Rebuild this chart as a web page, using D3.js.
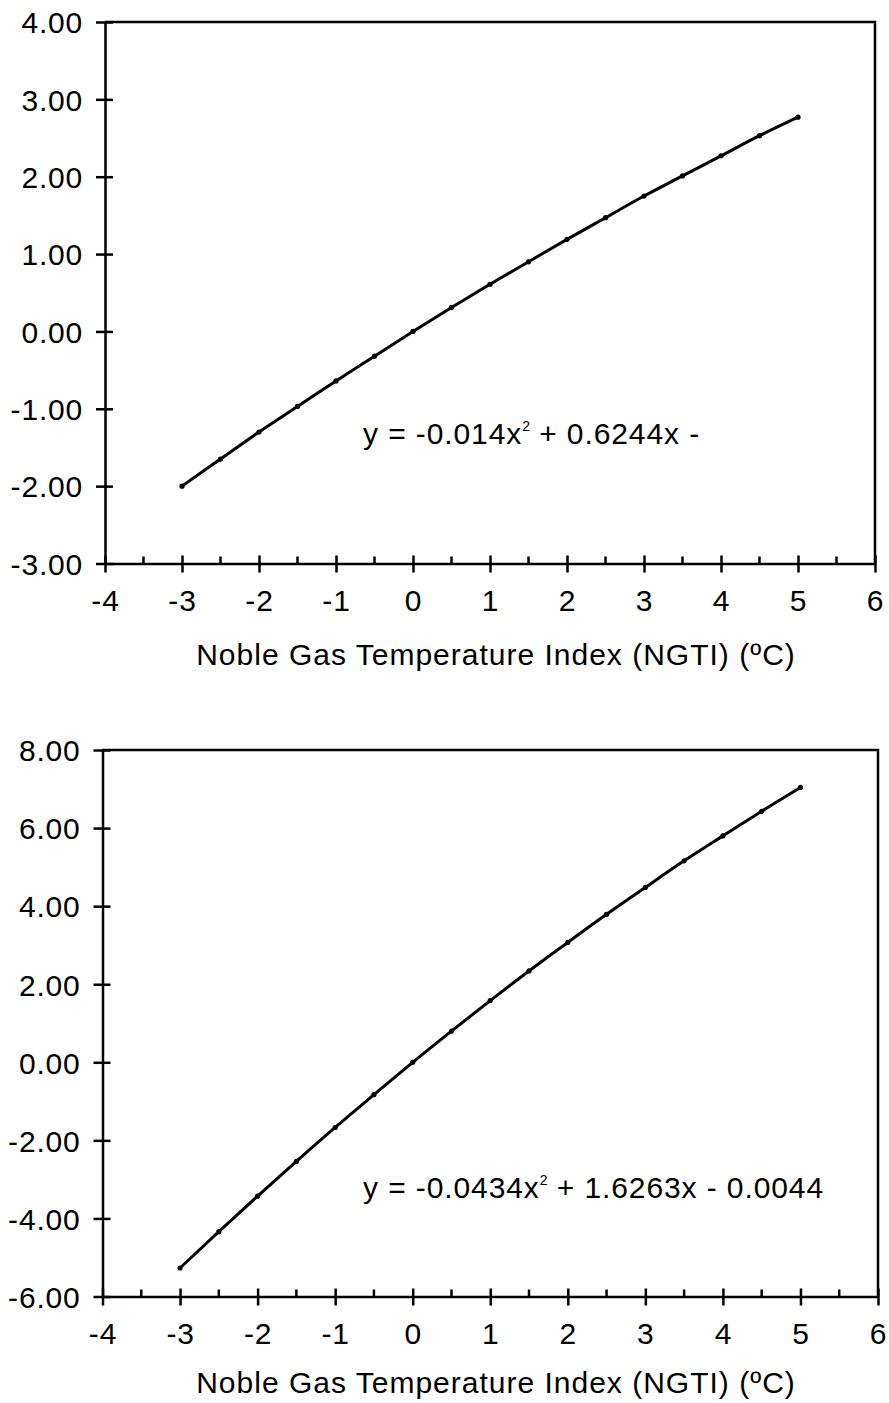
<!DOCTYPE html>
<html>
<head>
<meta charset="utf-8">
<script src="https://cdn.jsdelivr.net/npm/d3@7"></script>
<style>
 body { margin: 0; background: #fff; }
 svg { display: block; }
 text { font-family: "Liberation Sans", Arial, sans-serif; fill: #000; }
</style>
</head>
<body>
<script>
// x values (NGTI, degC) shared by both panels
var ngti = [-3, -2.5, -2, -1.5, -1, -0.5, 0, 0.5, 1, 1.5, 2, 2.5, 3, 3.5, 4, 4.5, 5];
// upper panel values
var topValues = [-2.00, -1.65, -1.30, -0.97, -0.64, -0.32, 0.00, 0.31, 0.61, 0.90, 1.19, 1.47, 1.75, 2.01, 2.27, 2.53, 2.77];
// lower panel values
var bottomValues = [-5.27, -4.34, -3.43, -2.54, -1.67, -0.83, 0.00, 0.80, 1.58, 2.34, 3.07, 3.79, 4.48, 5.16, 5.80, 6.43, 7.04];

var xTicks = [-4, -3, -2, -1, 0, 1, 2, 3, 4, 5, 6];
var xMinorTicks = [-3.5, -2.5, -1.5, -0.5, 0.5, 1.5, 2.5, 3.5, 4.5, 5.5];
var topYTicks = [-3, -2, -1, 0, 1, 2, 3, 4];
var bottomYTicks = [-6, -4, -2, 0, 2, 4, 6, 8];

var xTitle = "Noble Gas Temperature Index (NGTI) (ºC)";
var topEq = ["y = -0.014x", "2", " + 0.6244x -"];
var bottomEq = ["y = -0.0434x", "2", " + 1.6263x - 0.0044"];

var svg = d3.select("body").append("svg")
 .attr("width", 889)
 .attr("height", 1403);

// plain hyphen for negatives, like the original
function fmtY(d) { return d.toFixed(2); }
function fmtX(d) { return String(d); }

function drawPanel(box, yDomain, yTicks, values, eq, eqPos, titleOffset) {
	var x = d3.scaleLinear().domain([-4, 6]).range([box.left, box.right]);
	var y = d3.scaleLinear().domain(yDomain).range([box.bottom, box.top]);
	var g = svg.append("g");

	// frame: top and right edges
	g.append("path")
	 .attr("d", "M" + box.left + "," + box.top + "H" + box.right + "V" + box.bottom)
	 .attr("fill", "none")
	 .attr("stroke", "#000")
	 .attr("stroke-width", 2.5);

	// y axis
	var ya = g.append("g")
	 .attr("transform", "translate(" + box.left + ",0)")
	 .call(d3.axisLeft(y).tickValues(yTicks).tickFormat(fmtY).tickSizeOuter(0));
	ya.select(".domain").attr("stroke-width", 2.5);
	ya.selectAll(".tick line").attr("x1", -9).attr("x2", 8).attr("stroke-width", 2.5);
	ya.selectAll(".tick text")
	 .attr("x", -22)
	 .attr("dy", "0.36em")
	 .style("font-size", "30px")
	 .style("letter-spacing", "0.8px")
	 .style("font-family", "Liberation Sans, Arial, sans-serif");

	// minor x ticks
	g.selectAll(".minor").data(xMinorTicks).enter().append("line")
	 .attr("x1", function(d) { return x(d); })
	 .attr("x2", function(d) { return x(d); })
	 .attr("y1", box.bottom - 7)
	 .attr("y2", box.bottom)
	 .attr("stroke", "#000")
	 .attr("stroke-width", 2.5);

	// x axis
	var xa = g.append("g")
	 .attr("transform", "translate(0," + box.bottom + ")")
	 .call(d3.axisBottom(x).tickValues(xTicks).tickFormat(fmtX).tickSizeOuter(0));
	xa.select(".domain").attr("stroke-width", 2.5);
	xa.selectAll(".tick line").attr("y1", -8).attr("y2", 9).attr("stroke-width", 2.5);
	xa.selectAll(".tick text")
	 .attr("y", 26)
	 .attr("dy", "0.71em")
	 .style("font-size", "30px")
	 .style("letter-spacing", "0.8px")
	 .style("font-family", "Liberation Sans, Arial, sans-serif");

	// axis title
	g.append("text")
	 .attr("x", 496)
	 .attr("y", box.bottom + titleOffset)
	 .attr("text-anchor", "middle")
	 .style("font-size", "30px")
	 .style("letter-spacing", "1px")
	 .text(xTitle);

	// fitted curve through the points
	var pts = ngti.map(function(d, i) { return [d, values[i]]; });
	var line = d3.line()
	 .x(function(d) { return x(d[0]); })
	 .y(function(d) { return y(d[1]); })
	 .curve(d3.curveCatmullRom);
	g.append("path")
	 .attr("d", line(pts))
	 .attr("fill", "none")
	 .attr("stroke", "#000")
	 .attr("stroke-width", 3);
	g.selectAll(".pt").data(pts).enter().append("circle")
	 .attr("cx", function(d) { return x(d[0]); })
	 .attr("cy", function(d) { return y(d[1]); })
	 .attr("r", 2.6)
	 .attr("fill", "#000");

	// equation label
	var t = g.append("text")
	 .attr("x", eqPos[0])
	 .attr("y", eqPos[1])
	 .style("font-size", "30px")
	 .style("letter-spacing", "0.9px");
	t.append("tspan").text(eq[0]);
	t.append("tspan").attr("dy", -13).style("font-size", "14px").style("letter-spacing", "0px").text(eq[1]);
	t.append("tspan").attr("dy", 13).text(eq[2]);
}

drawPanel({left: 105, right: 875, top: 22, bottom: 563.5}, [-3, 4], topYTicks, topValues, topEq, [363, 444], 101.5);
drawPanel({left: 102.5, right: 878, top: 750, bottom: 1296.5}, [-6, 8], bottomYTicks, bottomValues, bottomEq, [363, 1198], 96.5);
</script>
</body>
</html>
